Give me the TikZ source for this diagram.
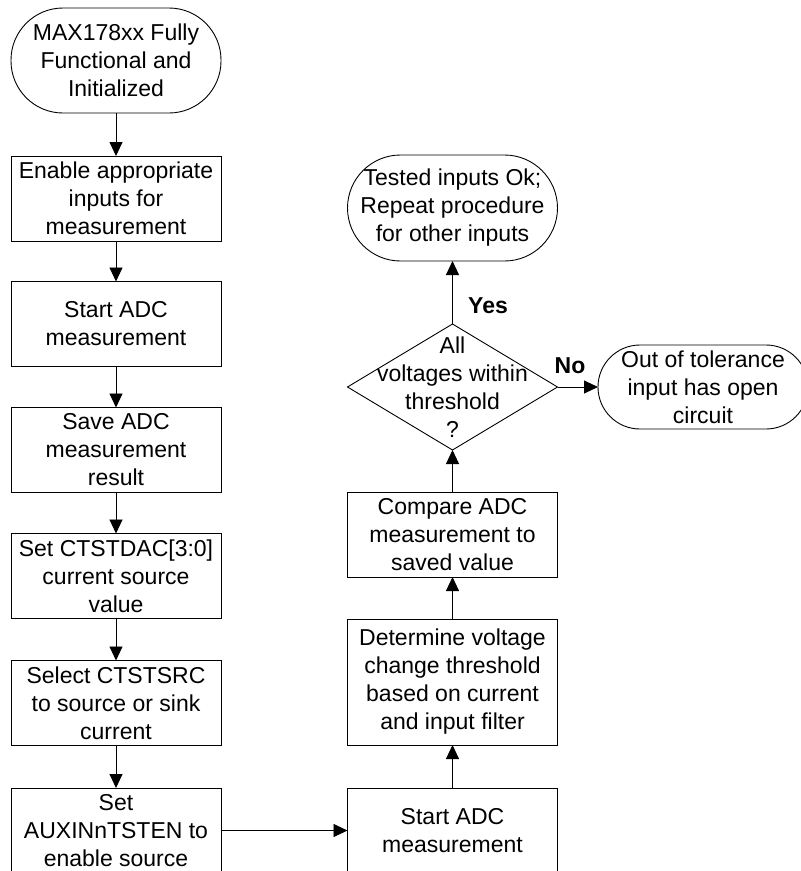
\documentclass[tikz,border=0pt]{standalone}
\usepackage{fontspec}
\setmainfont{Liberation Sans}
\usetikzlibrary{arrows.meta,shapes.geometric}
\begin{document}
\begin{tikzpicture}[x=1pt,y=-1pt,
  font=\fontsize{23}{28}\selectfont,
  every node/.style={inner sep=0pt, outer sep=0pt},
  procbox/.style={draw, line width=0.9pt, align=center,
    minimum width=210pt, minimum height=85pt},
  termbox/.style={draw, line width=0.9pt, align=center,
    minimum width=210pt},
  decbox/.style={draw, line width=0.9pt, shape=diamond, minimum width=210pt,
    minimum height=126pt},
  flow/.style={line width=0.9pt, -{Triangle[length=14pt,width=13pt]}},
  lab/.style={font=\fontsize{23}{28}\selectfont\bfseries}]
\useasboundingbox (0,0) rectangle (801,871);

% left column
\node[termbox, minimum height=105pt, rounded corners=52pt] (start) at (116,60.5)
  {MAX178xx Fully\\Functional and\\Initialized};
\node[procbox] (b1) at (116,198.5) {Enable appropriate\\inputs for\\measurement};
\node[procbox] (b2) at (116,324) {Start ADC\\measurement};
\node[procbox] (b3) at (116,450) {Save ADC\\measurement\\result};
\node[procbox] (b4) at (116,576) {Set CTSTDAC[3:0]\\current source\\value};
\node[procbox] (b5) at (116,703) {Select CTSTSRC\\to source or sink\\current};
\node[procbox] (b6) at (116,830.5) {Set\\AUXINnTSTEN to\\enable source};

% right column
\node[procbox] (r1) at (452.5,830.5) {Start ADC\\measurement};
\node[procbox, minimum height=126pt] (r2) at (452.5,682)
  {Determine voltage\\change threshold\\based on current\\and input filter};
\node[procbox] (r3) at (452.5,534.5) {Compare ADC\\measurement to\\saved value};
\node[decbox, label={[align=center]center:All\\voltages within\\threshold\\?}] (dec) at (452.5,387) {};
\node[termbox, minimum height=106pt, rounded corners=53pt] (ok) at (452.5,208)
  {Tested inputs Ok;\\Repeat procedure\\for other inputs};
\node[termbox, minimum height=84pt, rounded corners=42pt] (fail) at (703,387)
  {Out of tolerance\\input has open\\circuit};

% connectors
\draw[flow] (start) -- (b1);
\draw[flow] (b1) -- (b2);
\draw[flow] (b2) -- (b3);
\draw[flow] (b3) -- (b4);
\draw[flow] (b4) -- (b5);
\draw[flow] (b5) -- (b6);
\draw[flow] (b6.east) -- (r1.west);
\draw[flow] (r1) -- (r2);
\draw[flow] (r2) -- (r3);
\draw[flow] (r3) -- (dec.south);
\draw[flow] (dec.north) -- (ok);
\draw[flow] (dec.east) -- (fail.west);

\node[lab] (yes) at (488,306) {Yes};
\node[lab] (no) at (570,366) {No};
\end{tikzpicture}
\end{document}
